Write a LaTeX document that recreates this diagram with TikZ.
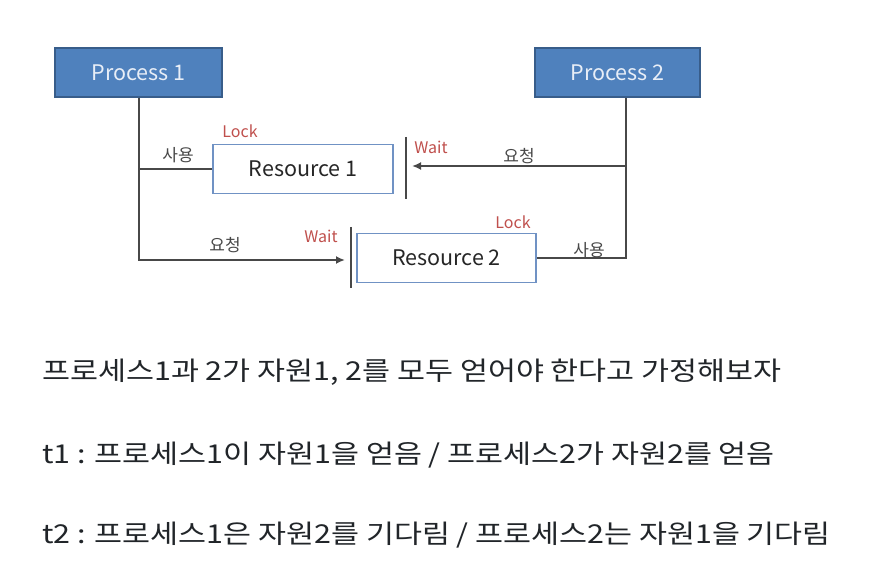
\documentclass[tikz,border=0pt]{standalone}
\usepackage{fontspec}
\setmainfont{Noto Sans CJK KR}
\newfontfamily\bodyfont[FakeStretch=1.17]{Noto Sans CJK KR}
\usepackage{xcolor}
\usepackage{tikz}
\usetikzlibrary{positioning, arrows.meta}
\definecolor{ProcBlue}{RGB}{79,129,189}
\definecolor{ProcEdge}{RGB}{56,93,138}
\definecolor{ProcText}{RGB}{232,238,247}
\definecolor{ResEdge}{RGB}{112,146,196}
\definecolor{LineGray}{RGB}{72,72,72}
\definecolor{TagRed}{RGB}{192,80,77}
\definecolor{BodyText}{RGB}{33,37,41}
\tikzset{
  procbox/.style={draw=ProcEdge, fill=ProcBlue, line width=1.2pt, text=ProcText,
    minimum width=167pt, minimum height=49pt, inner sep=0pt, font=\fontsize{21.5}{25}\selectfont},
  resbox/.style={draw=ResEdge, fill=white, line width=1.4pt, text=black!85,
    minimum width=180pt, minimum height=49pt, inner sep=0pt, font=\fontsize{21.5}{25}\selectfont},
  taglbl/.style={text=TagRed, inner sep=0pt, font=\fontsize{16}{19}\selectfont},
  edgelbl/.style={text=LineGray, inner sep=0pt, font=\fontsize{17}{20}\selectfont},
  uselink/.style={draw=LineGray, line width=2pt},
  reqarrow/.style={uselink, -{Latex[length=9pt, width=8pt]}},
  waitbar/.style={draw=LineGray, line width=2.6pt},
  bodyline/.style={anchor=west, inner sep=0pt, text=BodyText, font=\bodyfont\fontsize{26}{30}\selectfont},
}

\begin{document}
\begin{tikzpicture}[x=1pt, y=-1pt]
  \useasboundingbox[fill=white] (0,0) rectangle (884,588);
  % processes and resources
  \node[procbox] (p1) at (138.5,72.5) {Process 1};
  \node[procbox, minimum width=165pt] (p2) at (617.5,72.5) {Process 2};
  \node[resbox] (r1) at (303,169) {Resource 1};
  \node[resbox, minimum width=179pt] (r2) at (446.5,258) {Resource 2};
  % wait bars
  \coordinate (w1t) at (406,137);
  \coordinate (w1b) at (406,199);
  \coordinate (w2t) at (351,227);
  \coordinate (w2b) at (351,288);
  \draw[waitbar] (w1t) -- (w1b);
  \draw[waitbar] (w2t) -- (w2b);
  \coordinate (q1) at (345,260);
  \coordinate (q2) at (412,166);
  % links
  \draw[uselink] (p1.south) |- (r1.west);
  \draw[reqarrow] (p1.south) |- (q1);
  \draw[uselink] ([xshift=8.5]p2.south) |- (r2.east);
  \draw[reqarrow] ([xshift=8.5]p2.south) |- (q2);
  % labels
  \node[taglbl] (lk1) at (240,131) {Lock};
  \node[taglbl] (wt1) at (431,147) {Wait};
  \node[taglbl] (lk2) at (513,222) {Lock};
  \node[taglbl] (wt2) at (321,236) {Wait};
  \node[edgelbl] (us1) at (178,155) {사용};
  \node[edgelbl] (rq1) at (225,245) {요청};
  \node[edgelbl] (rq2) at (519,156) {요청};
  \node[edgelbl] (us2) at (589,250) {사용};
  % text below
  \node[bodyline] (t0) at (42,372) {프로세스1과 2가 자원1, 2를 모두 얻어야 한다고 가정해보자};
  \node[bodyline] (t1) at (42,455) {t1 : 프로세스1이 자원1을 얻음 / 프로세스2가 자원2를 얻음};
  \node[bodyline] (t2) at (42,535) {t2 : 프로세스1은 자원2를 기다림 / 프로세스2는 자원1을 기다림};
\end{tikzpicture}
\end{document}
